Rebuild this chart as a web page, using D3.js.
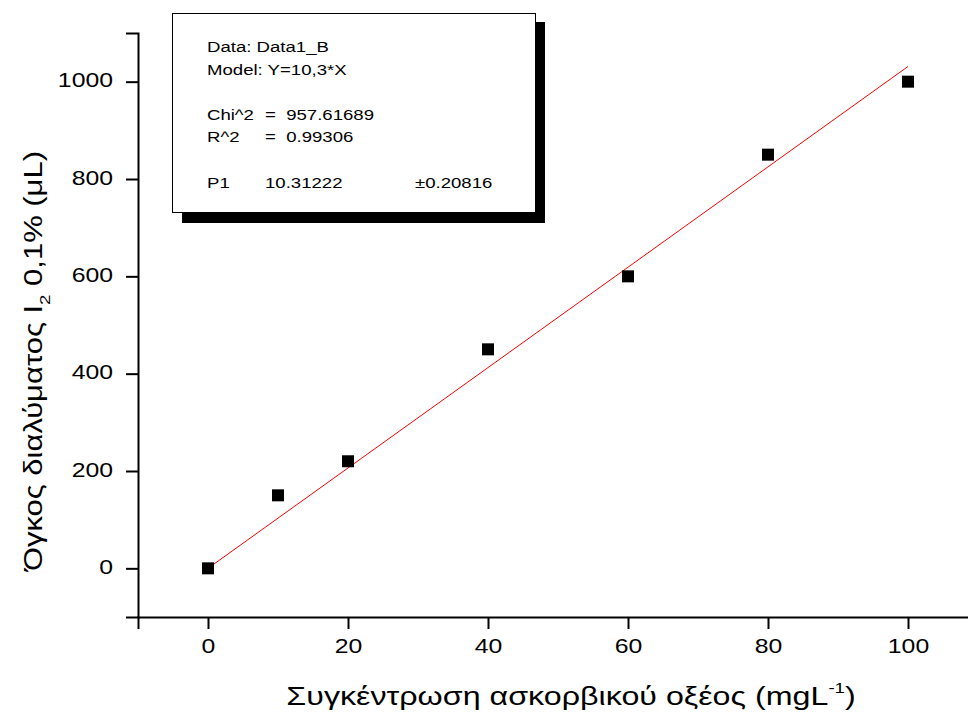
<!DOCTYPE html>
<html>
<head>
<meta charset="utf-8">
<script src="https://cdn.jsdelivr.net/npm/d3@7"></script>
<style>
  body { margin: 0; background: #fff; }
  svg { display: block; font-family: "Liberation Sans", Arial, sans-serif; }
</style>
</head>
<body>
<script>
// data
var conc = [0, 10, 20, 40, 60, 80, 100];
var volume = [0, 150, 220, 450, 600, 850, 1000];
var slope = 10.31222;

var xMajor = [0, 20, 40, 60, 80, 100];
var xMinor = [-10, 10, 30, 50, 70, 90];
var yMajor = [0, 200, 400, 600, 800, 1000];
var yMinor = [-100, 100, 300, 500, 700, 900, 1100];

var legendLines = [
  ["Data: Data1_B"],
  ["Model: Y=10,3*X"],
  null,
  ["Chi^2", "=\u00a0\u00a0957.61689"],
  ["R^2", "=\u00a0\u00a00.99306"],
  null,
  ["P1", "10.31222", "\u00b10.20816"]
];

var w = 968, h = 715;
var stretch = 1.24; // glyphs in the original are wider than Liberation Sans

var svg = d3.select("body").append("svg")
    .attr("width", w)
    .attr("height", h);

var x = d3.scaleLinear().domain([-10, 110]).range([138, 978]);
var y = d3.scaleLinear().domain([-100, 1100]).range([617, 33]);

// axes
var gx = svg.append("g").attr("transform", "translate(0," + y(-100) + ")");
gx.call(d3.axisBottom(x).tickValues(xMinor).tickSize(6).tickFormat(""));
gx.call(d3.axisBottom(x).tickValues(xMajor).tickSize(12).tickPadding(10).tickFormat(d3.format("d")));

var gy = svg.append("g").attr("transform", "translate(" + x(-10) + ",0)");
gy.call(d3.axisLeft(y).tickValues(yMinor).tickSize(6).tickFormat(""));
gy.call(d3.axisLeft(y).tickValues(yMajor).tickSize(12).tickPadding(13).tickFormat(d3.format("d")));

svg.selectAll(".domain").attr("stroke", "#000").attr("stroke-width", 2);
svg.selectAll(".tick line").attr("stroke", "#000").attr("stroke-width", 2);
svg.selectAll(".tick text")
    .attr("fill", "#000")
    .style("font-size", "20px")
    .style("font-family", "'Liberation Sans', Arial, sans-serif")
    .each(function() {
      var t = d3.select(this);
      var tx = +t.attr("x") || 0;
      t.attr("x", 0).attr("transform", "translate(" + tx + ",0) scale(" + stretch + ",1)");
    });
gy.selectAll(".tick text").attr("dy", "0.25em");

// fit line
svg.append("line")
    .attr("x1", x(0)).attr("y1", y(0))
    .attr("x2", x(100)).attr("y2", y(slope * 100))
    .attr("stroke", "#ff0000")
    .attr("stroke-width", 1);

// points
var pts = conc.map(function(c, i) { return {x: c, y: volume[i]}; });
svg.selectAll("rect.pt").data(pts).enter().append("rect")
    .attr("class", "pt")
    .attr("x", function(d) { return x(d.x) - 6; })
    .attr("y", function(d) { return y(d.y) - 6; })
    .attr("width", 12)
    .attr("height", 12)
    .attr("fill", "#000");

// legend box with shadow
var lg = svg.append("g");
lg.append("rect").attr("x", 182).attr("y", 22).attr("width", 363).attr("height", 201).attr("fill", "#000");
lg.append("rect").attr("x", 172.5).attr("y", 13.5).attr("width", 363).attr("height", 199)
    .attr("fill", "#fff").attr("stroke", "#000").attr("stroke-width", 1);

var colX = [207, 265, 415];
var rowY = 52, rowStep = 22.6;
legendLines.forEach(function(line, i) {
  if (!line) return;
  line.forEach(function(t, j) {
    lg.append("text")
      .attr("transform", "translate(" + colX[j] + "," + (rowY + i * rowStep) + ") scale(" + stretch + ",1)")
      .style("font-size", "15px")
      .attr("fill", "#000")
      .text(t);
  });
});

// axis titles
var xt = svg.append("text")
    .attr("transform", "translate(571,705) scale(" + stretch + ",1)")
    .attr("text-anchor", "middle")
    .style("font-size", "26px")
    .attr("fill", "#000");
xt.append("tspan").text("Συγκέντρωση ασκορβικού οξέος (mgL");
xt.append("tspan").attr("dy", -12).style("font-size", "15px").text("-1");
xt.append("tspan").attr("dy", 12).text(")");

var yt = svg.append("text")
    .attr("transform", "translate(42,361) rotate(-90) scale(" + stretch + ",1)")
    .attr("text-anchor", "middle")
    .style("font-size", "25px")
    .attr("fill", "#000");
yt.append("tspan").text("Όγκος διαλύματος I");
yt.append("tspan").attr("dy", 8).style("font-size", "15px").text("2");
yt.append("tspan").attr("dy", -8).text(" 0,1% (μL)");
</script>
</body>
</html>
